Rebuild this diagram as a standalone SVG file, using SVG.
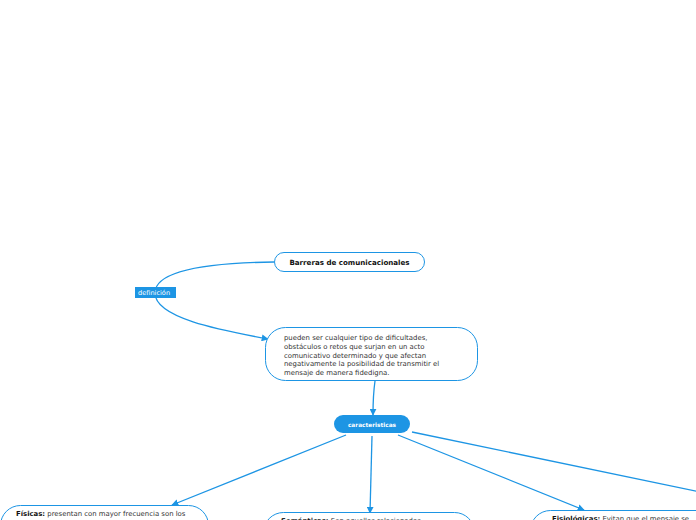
<svg xmlns="http://www.w3.org/2000/svg" width="696" height="520" viewBox="0 0 696 520">
<defs>
<style>
.box{fill:#fff;stroke:#1d95e4;stroke-width:1}
.t{font-family:"DejaVu Sans",Verdana,sans-serif;font-size:6.9px;fill:#333}
.b{font-weight:bold;fill:#111}
.w{fill:#fff;font-weight:bold}
.c{fill:none;stroke:#1d95e4;stroke-width:1.3}
</style>
<marker id="ah" viewBox="0 0 10 10" refX="9" refY="5" markerWidth="7" markerHeight="7" orient="auto" markerUnits="userSpaceOnUse">
<path d="M0,0 L10,5 L0,10 z" fill="#1d95e4"/>
</marker>
</defs>
<rect width="696" height="520" fill="#fff"/>
<g id="connectors">
<path class="c" d="M274,262 C200,263 155,272 155,293 C155,318 220,330 268,339" marker-end="url(#ah)"/>
<path class="c" d="M375,381 C373,395 373,402 373,415" marker-end="url(#ah)"/>
<path class="c" d="M346,435 L172,505" marker-end="url(#ah)"/>
<path class="c" d="M372,436 L370,513" marker-end="url(#ah)"/>
<path class="c" d="M398,435 L584,510" marker-end="url(#ah)"/>
<path class="c" d="M412,432 L700,492"/>
</g>
<g id="root">
<rect class="box" x="274.5" y="252.5" width="150" height="19" rx="9.5"/>
<text class="t b" x="349.5" y="264.5" text-anchor="middle" style="font-size:7.1px">Barreras de comunicacionales</text>
</g>
<g id="label-definicion">
<rect x="135" y="287" width="41" height="11" fill="#1d95e4"/>
<text class="t" x="138" y="295" style="fill:#fff;font-size:6.6px">definición</text>
</g>
<g id="definicion">
<rect class="box" x="265.5" y="327.5" width="212" height="53" rx="20"/>
<text class="t" x="284" y="340">pueden ser cualquier tipo de dificultades,</text>
<text class="t" x="284" y="348.8">obstáculos o retos que surjan en un acto</text>
<text class="t" x="284" y="357.6">comunicativo determinado y que afectan</text>
<text class="t" x="284" y="366.4">negativamente la posibilidad de transmitir el</text>
<text class="t" x="284" y="375.2">mensaje de manera fidedigna.</text>
</g>
<g id="caracteristicas">
<rect x="334" y="415" width="76" height="18" rx="9" fill="#1d95e4"/>
<text class="t w" x="372" y="426.5" text-anchor="middle" style="font-size:5.8px">caracteristicas</text>
</g>
<g id="fisicas">
<rect class="box" x="0.5" y="505.5" width="208" height="40" rx="20"/>
<text class="t" x="16" y="516"><tspan class="b">Físicas:</tspan> presentan con mayor frecuencia son los</text>
</g>
<g id="semanticas">
<rect class="box" x="263.5" y="512.5" width="211" height="40" rx="20"/>
<text class="t" x="281" y="523"><tspan class="b">Semánticas:</tspan> Son aquellas relacionadas</text>
</g>
<g id="fisiologicas">
<rect class="box" x="530.5" y="510.5" width="200" height="40" rx="20"/>
<text class="t" x="552" y="521"><tspan class="b">Fisiológicas:</tspan> Evitan que el mensaje se</text>
</g>
</svg>
